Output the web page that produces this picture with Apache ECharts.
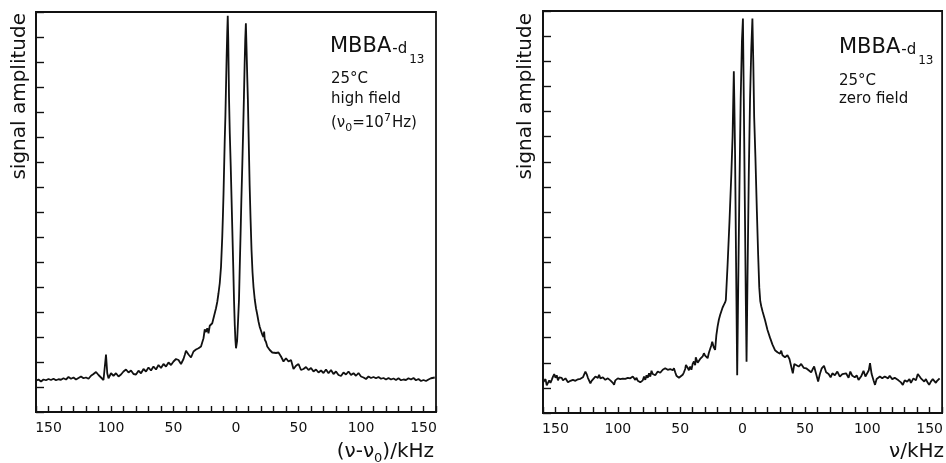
<!DOCTYPE html>
<html>
<head>
<meta charset="utf-8">
<script src="https://cdn.jsdelivr.net/npm/echarts@6/dist/echarts.min.js"></script>
<style>
html,body{margin:0;padding:0;background:#fff;}
#chart{width:946px;height:463px;}
</style>
</head>
<body>
<div id="chart"></div>
<script>
// ---- data (frequency in kHz, amplitude in arbitrary units) ----
const freqRange = [-160, 160];
const ampRange = [0, 16];
const tickLabelValues = [-150, -100, -50, 0, 50, 100, 150];

const highFieldSpectrum = [
[-160,1.25],[-158,1.30],[-156,1.22],[-154,1.30],[-152,1.27],[-150,1.32],[-148,1.28],[-146,1.33],[-144,1.27],[-142,1.31],
[-140,1.29],[-138,1.35],[-136,1.30],[-134,1.40],[-132,1.33],[-130,1.38],[-128,1.30],[-126,1.36],[-124,1.42],[-122,1.35],
[-120,1.38],[-118,1.33],[-116,1.45],[-114,1.52],[-112,1.60],[-110,1.48],[-108,1.38],[-106,1.28],[-105,1.30],[-104,2.30],
[-103,1.55],[-102,1.35],[-100,1.55],[-98,1.45],[-96,1.55],[-94,1.42],[-92,1.50],[-90,1.62],[-88,1.70],[-86,1.58],
[-84,1.66],[-82,1.52],[-80,1.50],[-78,1.65],[-76,1.55],[-74,1.72],[-72,1.62],[-70,1.78],[-68,1.66],[-66,1.82],
[-64,1.70],[-62,1.88],[-60,1.76],[-58,1.92],[-56,1.82],[-54,1.98],[-52,1.88],[-50,2.02],[-48,2.12],[-46,2.08],
[-44,1.92],[-42,2.12],[-41,2.28],[-40,2.45],[-38,2.30],[-36,2.18],[-34,2.42],[-33,2.35],[-32,2.50],[-30,2.55],
[-28,2.62],[-27,2.70],[-26,2.95],[-25,3.30],[-24,3.20],[-23,3.35],[-22,3.15],[-21,3.45],[-20,3.40],[-19,3.55],
[-18,3.75],[-17,3.95],[-16,4.15],[-15,4.40],[-14,4.75],[-13,5.15],[-12,5.80],[-11,7.00],[-10.5,7.80],[-10,8.70],
[-9.5,9.80],[-9,10.9],[-8.5,11.8],[-8,13.0],[-7.5,14.2],[-7,15.2],[-6.6,15.85],[-6.2,14.9],[-5.6,12.6],[-5,11.2],
[-4.2,9.8],[-3.5,8.4],[-2.9,7.2],[-2.2,5.8],[-1.6,4.5],[-1,3.5],[-0.5,2.9],[0,2.55],[0.4,2.50],[0.9,2.85],
[1.6,3.6],[2.4,4.5],[3,5.8],[3.7,7.2],[4.3,8.5],[5,9.8],[5.7,11.2],[6.3,12.5],[6.9,13.9],[7.4,14.9],
[7.9,15.55],[8.4,14.6],[9,13.4],[9.5,12.5],[10.2,10.8],[10.9,9.1],[11.6,7.8],[12.4,6.5],[13.2,5.6],[14,5.0],
[15,4.5],[16,4.15],[17,3.90],[18,3.62],[19,3.40],[20,3.25],[21,3.10],[22,3.00],[22.5,3.22],[23,2.90],
[24,2.80],[25,2.62],[26,2.55],[27,2.48],[28,2.52],[29,2.38],[30,2.45],[32,2.36],[34,2.38],[36,2.22],
[38,2.02],[40,2.15],[42,2.02],[44,2.08],[46,1.72],[48,1.85],[50,1.92],[52,1.68],[54,1.72],[56,1.80],
[58,1.68],[60,1.76],[62,1.62],[64,1.70],[66,1.58],[68,1.66],[70,1.56],[72,1.70],[74,1.55],[76,1.68],
[78,1.52],[80,1.62],[82,1.48],[84,1.44],[86,1.58],[88,1.50],[90,1.62],[92,1.48],[94,1.55],[96,1.45],
[98,1.56],[100,1.42],[102,1.38],[104,1.32],[106,1.42],[108,1.36],[110,1.40],[112,1.35],[114,1.40],[116,1.33],
[118,1.36],[120,1.30],[122,1.36],[124,1.30],[126,1.34],[128,1.28],[130,1.35],[132,1.27],[134,1.30],[136,1.28],
[138,1.35],[140,1.30],[142,1.36],[144,1.27],[146,1.32],[148,1.24],[150,1.28],[152,1.24],[154,1.30],[156,1.35],[159,1.38]
];

const zeroFieldSpectrum = [
[-160,1.22],[-158,1.35],[-157,1.10],[-156,1.05],[-155,1.30],[-154,1.20],[-153,1.32],[-152,1.45],[-151,1.55],[-150,1.40],
[-149,1.50],[-148,1.30],[-147,1.42],[-146,1.35],[-145,1.40],[-144,1.30],[-142,1.38],[-140,1.22],[-138,1.28],[-136,1.32],
[-134,1.28],[-132,1.34],[-130,1.36],[-128,1.42],[-127,1.48],[-126,1.65],[-125,1.55],[-124,1.40],[-122,1.18],[-121,1.28],
[-120,1.35],[-118,1.45],[-116,1.40],[-115,1.52],[-114,1.38],[-112,1.42],[-110,1.32],[-108,1.38],[-106,1.30],[-104,1.20],
[-103,1.12],[-102,1.30],[-100,1.38],[-98,1.35],[-96,1.37],[-94,1.36],[-92,1.40],[-90,1.38],[-88,1.45],[-86,1.32],
[-85,1.40],[-84,1.28],[-83,1.35],[-82,1.22],[-81,1.15],[-80,1.30],[-79,1.45],[-78,1.32],[-77,1.50],[-76,1.40],
[-75,1.58],[-74,1.45],[-73,1.68],[-72,1.55],[-71,1.62],[-70,1.50],[-68,1.65],[-66,1.60],[-64,1.72],[-63,1.68],
[-62,1.78],[-60,1.72],[-58,1.75],[-56,1.70],[-55,1.78],[-54,1.62],[-53,1.48],[-52,1.42],[-51,1.40],[-50,1.45],
[-48,1.52],[-47,1.62],[-46,1.75],[-45.4,1.91],[-44,1.80],[-43,1.70],[-42,1.85],[-41,1.72],[-40,1.95],[-39,2.05],
[-38,1.90],[-37.5,2.22],[-36,2.00],[-35,1.98],[-34,2.15],[-33,2.08],[-32,2.25],[-31,2.38],[-30,2.28],[-29,2.22],
[-28,2.18],[-27,2.40],[-26,2.55],[-25,2.70],[-24.3,2.84],[-23,2.60],[-22,2.51],[-21,3.10],[-20,3.45],[-19,3.71],
[-18,3.90],[-17,4.05],[-16,4.20],[-15,4.30],[-14,4.40],[-13.4,4.50],[-12,5.9],[-10.5,7.6],[-9,9.5],[-8,11.0],
[-7.4,12.6],[-7,13.6],[-6.6,12.4],[-6,10.3],[-5.2,6.0],[-4.3,1.50],[-3.5,5.0],[-2.5,9.0],[-1.5,12.5],[-0.5,14.8],
[0.3,15.7],[1,12.5],[1.8,8.5],[2.6,4.5],[3.2,2.04],[4,5.5],[5,9.5],[6,12.5],[7,14.5],[7.9,15.7],
[8.6,14.0],[9.3,11.8],[10.3,10.2],[11.5,8.0],[12.5,6.3],[13.4,5.0],[14.2,4.45],[15,4.25],[16,4.05],[18,3.70],
[20,3.30],[22,3.00],[24,2.72],[26,2.50],[28,2.42],[30,2.36],[31,2.48],[32,2.30],[34,2.22],[36,2.30],
[37.6,2.15],[39,2.10],[40.3,1.58],[41.5,1.95],[43,1.98],[45,1.85],[47,1.95],[49,1.80],[51,1.78],[53,1.70],
[55,1.62],[56,1.72],[57.4,1.85],[59,1.55],[60.6,1.25],[62,1.55],[63.5,1.78],[65.3,1.88],[67,1.62],[69,1.55],
[70.6,1.42],[72,1.58],[74,1.50],[76,1.65],[78,1.45],[80,1.55],[81,1.48],[83,1.58],[85,1.40],[86.4,1.65],
[88,1.48],[90,1.42],[91.5,1.50],[93,1.32],[95,1.45],[97,1.68],[98.5,1.45],[100,1.52],[101.2,1.70],[102.2,1.98],
[103.5,1.55],[105,1.30],[106.2,1.12],[107.5,1.35],[109,1.30],[110.1,1.45],[112,1.38],[114,1.45],[116.7,1.38],[118,1.48],
[120,1.35],[122,1.40],[123.3,1.42],[125,1.30],[127,1.22],[128.5,1.12],[130,1.30],[132,1.25],[133.8,1.35],[135,1.20],
[137,1.38],[139,1.30],[140.5,1.55],[141.7,1.48],[143,1.38],[144.5,1.45],[145.7,1.25],[147,1.35],[148.5,1.20],[149.6,1.12],
[151,1.25],[152.5,1.35],[153.6,1.31],[155,1.20],[156,1.28],[158,1.38]
];

// ---- styling ----
const INK = '#111';
const FONT = 'DejaVu Sans';

function makeXAxis(gridIndex) {
  return {
    type: 'value', gridIndex: gridIndex, position: 'bottom',
    min: freqRange[0], max: freqRange[1], interval: 10,
    axisLine: { show: true, onZero: false, lineStyle: { color: INK, width: 1.8 } },
    axisTick: { show: true, inside: true, length: 6, lineStyle: { color: INK, width: 1.4 } },
    axisLabel: {
      color: INK, fontFamily: FONT, fontSize: 14, margin: 9,
      formatter: function (v) { return tickLabelValues.indexOf(v) >= 0 ? String(Math.abs(v)) : ''; }
    },
    splitLine: { show: false }
  };
}
function makeYAxis(gridIndex) {
  return {
    type: 'value', gridIndex: gridIndex, position: 'left',
    min: ampRange[0], max: ampRange[1], interval: 1,
    axisLine: { show: true, onZero: false, lineStyle: { color: INK, width: 1.8 } },
    axisTick: { show: true, inside: true, length: 8, lineStyle: { color: INK, width: 1.4 } },
    axisLabel: { show: false },
    splitLine: { show: false }
  };
}

const richSmall = {
  big: { fontFamily: FONT, fontSize: 21, fill: INK, verticalAlign: 'middle' },
  d:   { fontFamily: FONT, fontSize: 15, fill: INK, verticalAlign: 'middle', padding: [5, 0, 0, 1] },
  sub: { fontFamily: FONT, fontSize: 12, fill: INK, verticalAlign: 'middle', padding: [26, 0, 0, 2] }
};
const richNote = {
  n:   { fontFamily: FONT, fontSize: 15, fill: INK, verticalAlign: 'middle' },
  s:   { fontFamily: FONT, fontSize: 11, fill: INK, verticalAlign: 'middle', padding: [10, 0, 0, 0] },
  p:   { fontFamily: FONT, fontSize: 11, fill: INK, verticalAlign: 'middle', padding: [0, 1, 10, 0] }
};
const richAxis = {
  n:   { fontFamily: FONT, fontSize: 20, fill: INK, verticalAlign: 'middle' },
  s:   { fontFamily: FONT, fontSize: 13, fill: INK, verticalAlign: 'middle', padding: [14, 0, 0, 0] }
};

function txt(x, y, text, rich, extra) {
  return Object.assign({
    type: 'text', x: x, y: y, silent: true,
    style: { text: text, rich: rich, fill: INK, align: 'left', verticalAlign: 'middle' }
  }, extra || {});
}

const chart = echarts.init(document.getElementById('chart'), null, { renderer: 'canvas' });
chart.setOption({
  backgroundColor: '#fff',
  animation: false,
  grid: [
    { left: 36, top: 12, width: 400, height: 400, show: true, borderColor: INK, borderWidth: 1.8, backgroundColor: 'transparent' },
    { left: 543, top: 11, width: 400, height: 402, show: true, borderColor: INK, borderWidth: 1.8, backgroundColor: 'transparent' }
  ],
  xAxis: [makeXAxis(0), makeXAxis(1)],
  yAxis: [makeYAxis(0), makeYAxis(1)],
  series: [
    { type: 'line', xAxisIndex: 0, yAxisIndex: 0, data: highFieldSpectrum, showSymbol: false, symbol: 'none',
      lineStyle: { color: INK, width: 1.8 }, clip: true },
    { type: 'line', xAxisIndex: 1, yAxisIndex: 1, data: zeroFieldSpectrum, showSymbol: false, symbol: 'none',
      lineStyle: { color: INK, width: 1.8 }, clip: true }
  ],
  graphic: [
    // y-axis titles
    { type: 'text', x: 20, y: 13, rotation: Math.PI / 2, silent: true,
      style: { text: 'signal amplitude', font: '20px "DejaVu Sans"', fill: INK, align: 'right', verticalAlign: 'middle' } },
    { type: 'text', x: 526, y: 13, rotation: Math.PI / 2, silent: true,
      style: { text: 'signal amplitude', font: '20px "DejaVu Sans"', fill: INK, align: 'right', verticalAlign: 'middle' } },
    // x-axis titles
    { type: 'text', x: 434, y: 452, silent: true,
      style: { text: '{n|(ν-ν}{s|0}{n|)/kHz}', rich: richAxis, align: 'right', verticalAlign: 'middle', fill: INK } },
    { type: 'text', x: 944, y: 452, silent: true,
      style: { text: '{n|ν/kHz}', rich: richAxis, align: 'right', verticalAlign: 'middle', fill: INK } },
    // left annotations
    txt(330, 47, '{big|MBBA}{d|-d}{sub|13}', richSmall),
    txt(331, 79, '{n|25°C}', richNote),
    txt(331, 99, '{n|high field}', richNote),
    txt(331, 123, '{n|(ν}{s|0}{n|=10}{p|7}{n|Hz)}', richNote),
    // right annotations
    txt(839, 48, '{big|MBBA}{d|-d}{sub|13}', richSmall),
    txt(839, 81, '{n|25°C}', richNote),
    txt(839, 99, '{n|zero field}', richNote)
  ]
});
</script>
</body>
</html>
